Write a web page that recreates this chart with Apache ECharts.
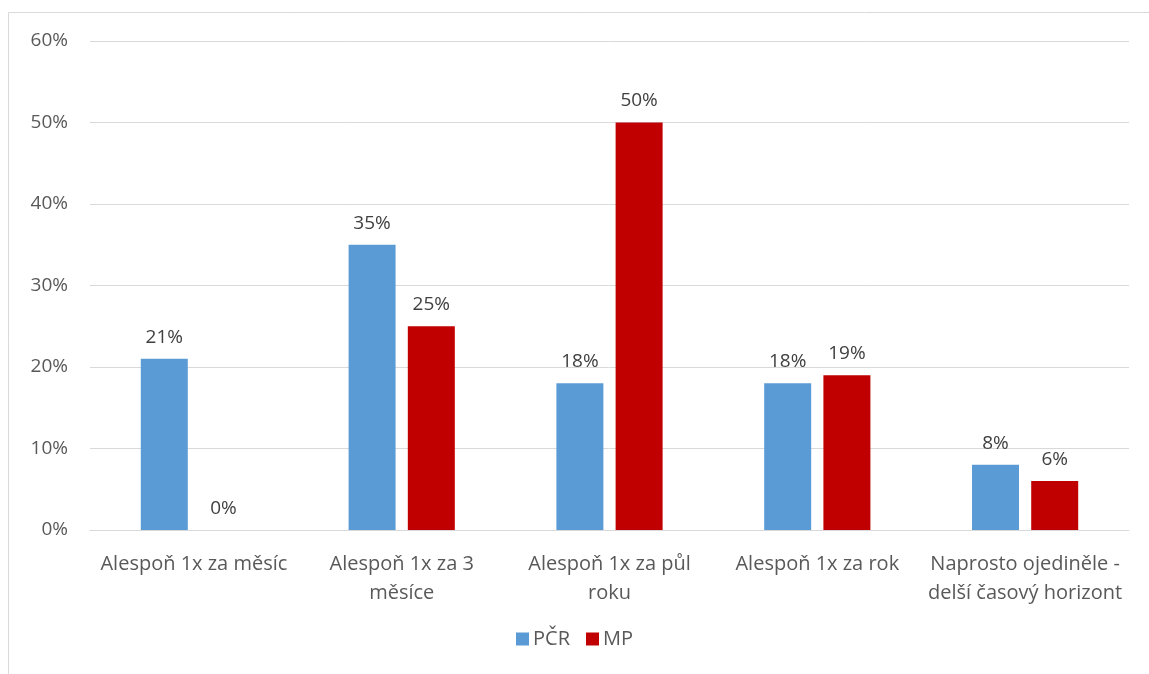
<!DOCTYPE html>
<html>
<head>
<meta charset="utf-8">
<script src="https://cdn.jsdelivr.net/npm/echarts@6/dist/echarts.min.js"></script>
<style>
html,body{margin:0;padding:0;background:#fff;}
#c{width:1149px;height:674px;}
</style>
</head>
<body>
<div id="c"></div>
<script>
const categories = ['Alespoň 1x za měsíc', 'Alespoň 1x za 3\nměsíce', 'Alespoň 1x za půl\nroku', 'Alespoň 1x za rok', 'Naprosto ojediněle -\ndelší časový horizont'];
const pcr = [21, 35, 18, 18, 8];
const mp = [0, 25, 50, 19, 6];
const yTicks = [0, 10, 20, 30, 40, 50, 60];

const font = '"Open Sans", Lato, sans-serif';
const chart = echarts.init(document.getElementById('c'));
chart.setOption({
  animation: false,
  textStyle: { fontFamily: font },
  graphic: [{
    type: 'rect',
    shape: { x: 8.5, y: 12.5, width: 1200, height: 700 },
    style: { fill: 'none', stroke: '#d9d9d9', lineWidth: 1 },
    silent: true
  }],
  grid: { left: 90, right: 20, top: 41, bottom: 144, containLabel: false },
  legend: {
    bottom: 20,
    left: 'center',
    itemWidth: 13,
    itemHeight: 13,
    itemGap: 16,
    icon: 'rect',
    textStyle: { color: '#595959', fontSize: 20, fontFamily: font, padding: [0, 0, 0, -1] },
    data: ['PČR', 'MP']
  },
  xAxis: {
    type: 'category',
    data: categories,
    axisLine: { lineStyle: { color: '#d9d9d9', width: 1 } },
    axisTick: { show: false },
    axisLabel: { color: '#595959', fontSize: 20, fontFamily: font, margin: 20, lineHeight: 29, interval: 0 }
  },
  yAxis: {
    type: 'value',
    min: yTicks[0],
    max: yTicks[yTicks.length - 1],
    interval: 10,
    axisLine: { show: false },
    axisTick: { show: false },
    splitLine: { lineStyle: { color: '#d9d9d9', width: 1 } },
    axisLabel: { color: '#595959', fontSize: 19, fontFamily: font, margin: 22, formatter: v => v + '%' }
  },
  series: [
    {
      name: 'PČR', type: 'bar', data: pcr, barWidth: 47, barGap: '26%',
      itemStyle: { color: '#5b9bd5' },
      label: { show: true, position: 'top', distance: 12, color: '#404040', fontSize: 19, fontFamily: font, formatter: p => p.value + '%' }
    },
    {
      name: 'MP', type: 'bar', data: mp, barWidth: 47,
      itemStyle: { color: '#c00000' },
      label: { show: true, position: 'top', distance: 12, color: '#404040', fontSize: 19, fontFamily: font, formatter: p => p.value + '%' }
    }
  ]
});
</script>
</body>
</html>
